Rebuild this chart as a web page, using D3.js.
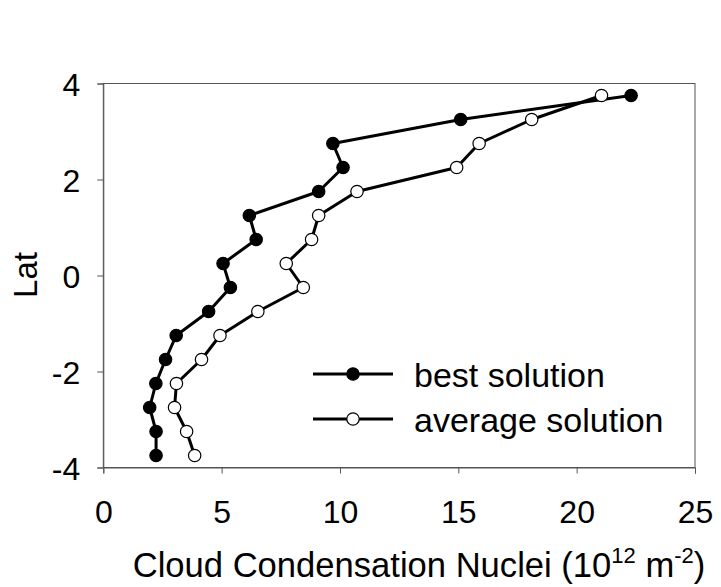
<!DOCTYPE html>
<html><head><meta charset="utf-8">
<script src="https://cdn.jsdelivr.net/npm/d3@7"></script>
<style>
body{margin:0;background:#fff;}
text{font-family:"Liberation Sans",Arial,Helvetica,sans-serif;fill:#000;}
</style></head>
<body>
<svg id="chart" width="721" height="587"></svg>
<script>
const lat = [3.75, 3.25, 2.75, 2.25, 1.75, 1.25, 0.75, 0.25, -0.25, -0.75, -1.25, -1.75, -2.25, -2.75, -3.25, -3.75];
const bestSolution = [22.3, 15.1, 9.7, 10.13, 9.1, 6.17, 6.46, 5.06, 5.37, 4.45, 3.08, 2.63, 2.22, 1.96, 2.23, 2.23];
const averageSolution = [21.05, 18.1, 15.88, 14.93, 10.72, 9.1, 8.8, 7.73, 8.45, 6.53, 4.93, 4.15, 3.09, 3.01, 3.52, 3.86];
const xTicks = [0, 5, 10, 15, 20, 25];
const yTicks = [-4, -2, 0, 2, 4];
const seriesNames = ["best solution", "average solution"];

const svg = d3.select("#chart");
const L = 103.3, R = 695, T = 83.5, B = 467.5;
const x = d3.scaleLinear().domain([0, 25]).range([L, R]);
const y = d3.scaleLinear().domain([-4, 4]).range([B, T]);
const fmt = d => String(d);

// frame
svg.append("rect").attr("x", L).attr("y", T).attr("width", R - L).attr("height", B - T)
  .attr("fill", "none").attr("stroke", "#555").attr("stroke-width", 1);

const xAxis = svg.append("g").attr("transform", `translate(0,${B})`)
  .call(d3.axisBottom(x).tickValues(xTicks).tickSize(6).tickPadding(27).tickFormat(fmt));
const yAxis = svg.append("g").attr("transform", `translate(${L},0)`)
  .call(d3.axisLeft(y).tickValues(yTicks).tickSize(6).tickPadding(17).tickFormat(fmt));
[xAxis, yAxis].forEach(a => {
  a.select(".domain").attr("stroke", "#555");
  a.selectAll(".tick line").attr("stroke", "#555");
  a.selectAll(".tick text").style("font-size", "32px").attr("fill", "#000")
   .style("font-family", "'Liberation Sans',Arial,sans-serif");
});
xAxis.selectAll(".tick text").attr("dy", "0.71em");
yAxis.selectAll(".tick text").attr("dy", "0.36em");

// axis titles
svg.append("text").attr("transform", "translate(36.5,275) rotate(-90)")
  .attr("text-anchor", "middle").style("font-size", "33px").text("Lat");
const xt = svg.append("text").attr("x", 419).attr("y", 577).attr("text-anchor", "middle").style("font-size", "34.6px");
xt.append("tspan").text("Cloud Condensation Nuclei (10");
xt.append("tspan").attr("dy", -14).style("font-size", "22px").text("12");
xt.append("tspan").attr("dy", 14).text(" m");
xt.append("tspan").attr("dy", -14).style("font-size", "22px").text("-2");
xt.append("tspan").attr("dy", 14).text(")");

const line = d3.line().x(d => x(d[0])).y(d => y(d[1]));
function drawSeries(vals, filled) {
  const pts = vals.map((v, i) => [v, lat[i]]);
  svg.append("path").datum(pts).attr("d", line).attr("fill", "none")
    .attr("stroke", "#000").attr("stroke-width", 3).attr("stroke-linejoin", "round");
  svg.append("g").selectAll("circle").data(pts).join("circle")
    .attr("cx", d => x(d[0])).attr("cy", d => y(d[1])).attr("r", 6.2)
    .attr("fill", filled ? "#000" : "#fff").attr("stroke", "#000").attr("stroke-width", 1.2);
}
drawSeries(bestSolution, true);
drawSeries(averageSolution, false);

// legend
const lg = svg.append("g");
seriesNames.forEach((name, i) => {
  const ly = 374 + i * 45;
  lg.append("line").attr("x1", 313).attr("x2", 393).attr("y1", ly).attr("y2", ly)
    .attr("stroke", "#000").attr("stroke-width", 3);
  lg.append("circle").attr("cx", 353).attr("cy", ly).attr("r", 6.2)
    .attr("fill", i === 0 ? "#000" : "#fff").attr("stroke", "#000").attr("stroke-width", 1.2);
  lg.append("text").attr("x", 414).attr("y", ly + 12.5).style("font-size", "34px").text(name);
});
</script>
</body></html>
